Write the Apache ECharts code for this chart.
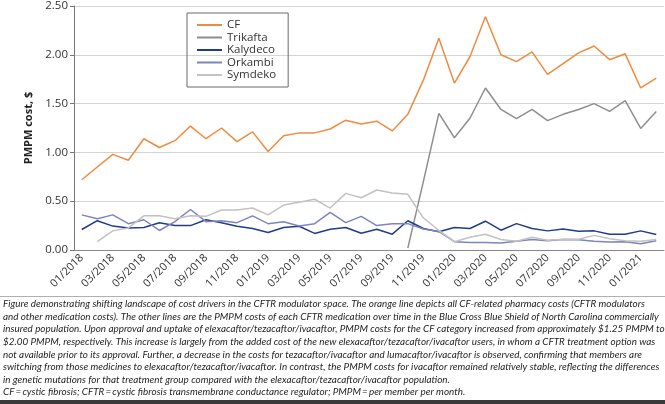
<!DOCTYPE html>
<html><head><meta charset="utf-8">
<script src="https://cdn.jsdelivr.net/npm/echarts@6/dist/echarts.min.js"></script>
<style>html,body{margin:0;padding:0;background:#fff}#c{width:665px;height:404px}</style>
</head><body><div id="c"></div>
<script>
const months = ['01/2018','02/2018','03/2018','04/2018','05/2018','06/2018','07/2018','08/2018','09/2018','10/2018','11/2018','12/2018',
  '01/2019','02/2019','03/2019','04/2019','05/2019','06/2019','07/2019','08/2019','09/2019','10/2019','11/2019','12/2019',
  '01/2020','02/2020','03/2020','04/2020','05/2020','06/2020','07/2020','08/2020','09/2020','10/2020','11/2020','12/2020',
  '01/2021','02/2021'];
const cf = [0.72,0.85,0.98,0.92,1.14,1.05,1.12,1.27,1.14,1.25,1.11,1.21,1.01,1.17,1.20,1.20,1.24,1.33,1.29,1.32,1.22,1.39,1.74,2.17,1.71,1.98,2.39,2.00,1.93,2.03,1.80,1.91,2.02,2.09,1.95,2.01,1.66,1.76];
const trikafta = [null,null,null,null,null,null,null,null,null,null,null,null,null,null,null,null,null,null,null,null,null,
  0.02,0.70,1.40,1.15,1.35,1.66,1.44,1.345,1.44,1.325,1.39,1.44,1.50,1.42,1.53,1.245,1.42];
const kalydeco = [0.21,0.30,0.245,0.226,0.23,0.28,0.25,0.25,0.31,0.28,0.243,0.22,0.18,0.23,0.243,0.17,0.213,0.23,0.172,0.213,
  0.162,0.30,0.22,0.186,0.23,0.22,0.295,0.203,0.27,0.22,0.196,0.216,0.193,0.196,0.162,0.162,0.196,0.159];
const orkambi = [0.36,0.32,0.36,0.27,0.31,0.20,0.29,0.415,0.29,0.30,0.28,0.35,0.27,0.29,0.245,0.27,0.385,0.28,0.345,0.25,
  0.27,0.27,0.216,0.19,0.085,0.078,0.078,0.071,0.09,0.108,0.095,0.108,0.105,0.09,0.081,0.085,0.064,0.095];
const symdeko = [null,0.085,0.196,0.226,0.35,0.35,0.32,0.35,0.345,0.41,0.41,0.43,0.36,0.46,0.49,0.52,0.43,0.58,0.535,0.615,
  0.585,0.57,0.33,0.20,0.085,0.13,0.162,0.108,0.09,0.13,0.10,0.11,0.11,0.15,0.115,0.095,0.09,0.108];
const seriesNames = ['CF','Trikafta','Kalydeco','Orkambi','Symdeko'];
const yTicks = ['0.00','0.50','1.00','1.50','2.00','2.50'];
const captionLines = [
 'Figure demonstrating shifting landscape of cost drivers in the CFTR modulator space. The orange line depicts all CF-related pharmacy costs (CFTR modulators',
 'and other medication costs). The other lines are the PMPM costs of each CFTR medication over time in the Blue Cross Blue Shield of North Carolina commercially',
 'insured population. Upon approval and uptake of elexacaftor/tezacaftor/ivacaftor, PMPM costs for the CF category increased from approximately $1.25 PMPM to',
 '$2.00 PMPM, respectively. This increase is largely from the added cost of the new elexacaftor/tezacaftor/ivacaftor users, in whom a CFTR treatment option was',
 'not available prior to its approval. Further, a decrease in the costs for tezacaftor/ivacaftor and lumacaftor/ivacaftor is observed, confirming that members are',
 'switching from those medicines to elexacaftor/tezacaftor/ivacaftor. In contrast, the PMPM costs for ivacaftor remained relatively stable, reflecting the differences',
 'in genetic mutations for that treatment group compared with the elexacaftor/tezacaftor/ivacaftor population.',
 'CF\u2009=\u2009cystic fibrosis; CFTR\u2009=\u2009cystic fibrosis transmembrane conductance regulator; PMPM\u2009=\u2009per member per month.'
];
const colors = ['#F08A3E','#8E8E8E','#213C8A','#7E84BC','#C2C2C2'];

const capFont = 'italic 10.2px Lato';
const mc = document.createElement('canvas').getContext('2d');
mc.font = capFont;
const capScale = 642 / mc.measureText(captionLines[0]).width;

const graphics = [
  {type:'rect', shape:{x:0,y:296,width:665,height:1}, style:{fill:'#b0b0b0'}},
  {type:'rect', shape:{x:0,y:400,width:665,height:4}, style:{fill:'#3a3a3a'}}
];
captionLines.forEach((t,k)=>{
  graphics.push({type:'text', x:3, y:304 + k*12.6, scaleX:capScale,
    style:{text:t, font:capFont, fill:'#1e1e1e', verticalAlign:'middle', align:'left'}});
});

const chart = echarts.init(document.getElementById('c'), null, {renderer:'canvas'});
const data = [cf, trikafta, kalydeco, orkambi, symdeko];
chart.setOption({
  animation:false,
  grid:{left:74, right:1, top:3.5, bottom:154, containLabel:false},
  legend:{
    orient:'vertical', left:187, top:13, width:100,
    padding:[6,12,6,10], itemGap:0.5, itemWidth:25, itemHeight:2, icon:'rect',
    borderColor:'#6a6a6a', borderWidth:1,
    textStyle:{fontFamily:'Open Sans', fontSize:11.5, color:'#333', lineHeight:12},
    data:seriesNames
  },
  xAxis:{
    type:'category', data:months, boundaryGap:true,
    axisLine:{lineStyle:{color:'#888', width:1}},
    axisTick:{interval:1, length:5, lineStyle:{color:'#888'}},
    axisLabel:{interval:1, rotate:45, fontFamily:'Open Sans', fontSize:11, color:'#333', margin:6}
  },
  yAxis:{
    type:'value', min:0, max:2.5, interval:0.5,
    name:'PMPM cost, $', nameLocation:'middle', nameGap:38,
    nameTextStyle:{fontFamily:'Open Sans', fontWeight:'bold', fontSize:11, color:'#222'},
    axisLine:{show:true, lineStyle:{color:'#777', width:1}},
    axisTick:{show:true, length:4, lineStyle:{color:'#777'}},
    splitLine:{lineStyle:{color:'#d4d4d4', width:1}},
    axisLabel:{fontFamily:'Open Sans', fontSize:11.5, color:'#333', margin:6,
      formatter:(v)=>yTicks[Math.round(v/0.5)]}
  },
  series: seriesNames.map((n,k)=>({
    name:n, type:'line', data:data[k], showSymbol:false, symbol:'none',
    lineStyle:{color:colors[k], width:1.5}, itemStyle:{color:colors[k]}, connectNulls:false
  })),
  graphic: graphics
});
</script></body></html>
